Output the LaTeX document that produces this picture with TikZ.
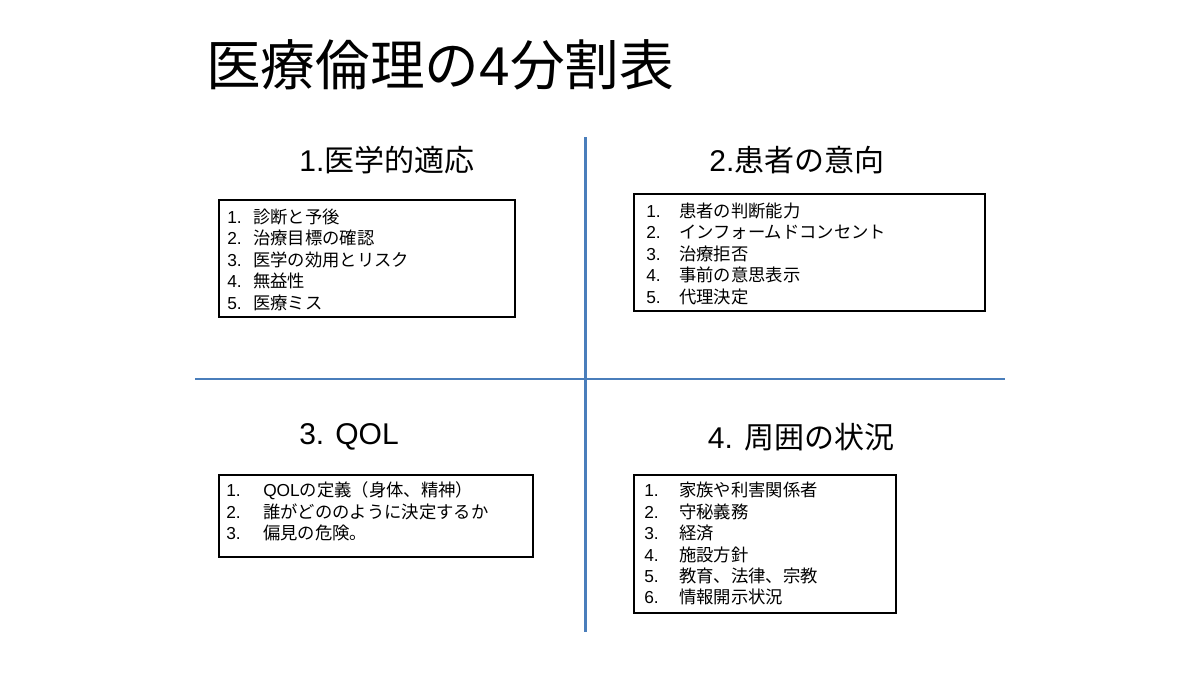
\documentclass[tikz,border=0pt]{standalone}
\usepackage{fontspec}
\setmainfont{Liberation Sans}
\newfontfamily\jp{Noto Sans CJK JP}
\usetikzlibrary{fit}
\definecolor{axisblue}{HTML}{4A7EBB}
\tikzset{
  axisline/.style={draw=axisblue, line width=2pt},
  listbox/.style={draw=black, line width=2.2pt, inner sep=0pt, fill=white},
  heading/.style={font=\fontsize{22.5}{26}\selectfont, inner sep=0pt},
  listtext/.style={anchor=west, inner sep=0pt, font=\fontsize{13}{16.1}\selectfont},
}
\begin{document}
\begin{tikzpicture}[x=0.75pt,y=-0.75pt]
\useasboundingbox[fill=white] (0,0) rectangle (1200,675);

% title
\node[anchor=west, inner sep=0pt, font=\fontsize{41}{48}\selectfont] (title) at (206,65) {{\jp 医療倫理の}4{\jp 分割表}};

% axes
\coordinate (vt) at (585.5,137);
\coordinate (vb) at (585.5,632);
\coordinate (hl) at (195,379);
\coordinate (hr) at (1005,379);
\draw[axisline] (vt) -- (vb);
\draw[axisline] (hl) -- (hr);

% headings
\node[heading] (h1) at (387,160) {1.{\jp 医学的適応}};
\node[heading] (h2) at (797,160) {2.{\jp 患者の意向}};
\node[heading] (h3) at (349,437) {3. QOL};
\node[heading] (h4) at (801,437) {4. {\jp 周囲の状況}};

% boxes
\node[listbox, fit={(219,200)(515,317)}] (b1) {};
\node[listbox, fit={(634,194)(985,311)}] (b2) {};
\node[listbox, fit={(219,475)(533,557)}] (b3) {};
\node[listbox, fit={(634,475)(896,613)}] (b4) {};

% lists
\node[listtext] (t1) at (227,262) {\begin{tabular}{@{}p{19.5pt}@{}l@{}}
1. & {\jp 診断と予後}\\
2. & {\jp 治療目標の確認}\\
3. & {\jp 医学の効用とリスク}\\
4. & {\jp 無益性}\\
5. & {\jp 医療ミス}
\end{tabular}};

\node[listtext] (t2) at (646,256) {\begin{tabular}{@{}p{24.75pt}@{}l@{}}
1. & {\jp 患者の判断能力}\\
2. & {\jp インフォームドコンセント}\\
3. & {\jp 治療拒否}\\
4. & {\jp 事前の意思表示}\\
5. & {\jp 代理決定}
\end{tabular}};

\node[listtext] (t3) at (226,514) {\begin{tabular}{@{}p{27.75pt}@{}l@{}}
1. & QOL{\jp の定義（身体、精神）}\\
2. & {\jp 誰がどののように決定するか}\\
3. & {\jp 偏見の危険。}
\end{tabular}};

\node[listtext] (t4) at (644,546) {\begin{tabular}{@{}p{26.25pt}@{}l@{}}
1. & {\jp 家族や利害関係者}\\
2. & {\jp 守秘義務}\\
3. & {\jp 経済}\\
4. & {\jp 施設方針}\\
5. & {\jp 教育、法律、宗教}\\
6. & {\jp 情報開示状況}
\end{tabular}};
\end{tikzpicture}
\end{document}
